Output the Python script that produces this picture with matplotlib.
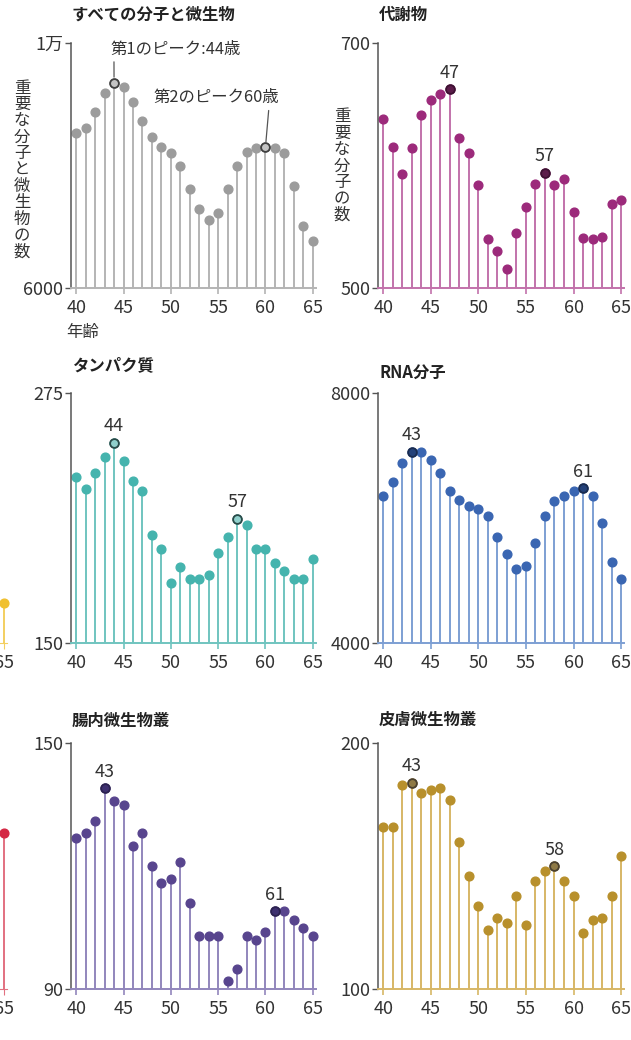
"""Small-multiple stem charts: molecules and microbes vs. age (two peaks)."""

import matplotlib.pyplot as plt

plt.rcParams["font.family"] = ["Noto Sans CJK JP", "DejaVu Sans"]

ages = list(range(40, 66))

all_counts = [8524, 8605, 8876, 9186, 9349, 9272, 9028, 8730, 8458, 8306, 8198, 7997, 7612,
              7292, 7113, 7232, 7612, 7992, 8225, 8279, 8296, 8290, 8198, 7666, 7015, 6776]
metabolites = [638, 615, 593, 614, 641, 653, 658, 662, 622, 610, 584, 540, 530,
               516, 545, 566, 585, 594, 584, 589, 562, 541, 540, 542, 569, 572]
proteins = [233, 227, 235, 243, 250, 241, 231, 226, 204, 197, 180, 188, 182,
            182, 184, 195, 203, 212, 209, 197, 197, 190, 186, 182, 182, 192]
rna = [6356, 6569, 6883, 7059, 7048, 6925, 6723, 6436, 6287, 6191, 6144, 6032, 5691,
       5426, 5186, 5239, 5596, 6032, 6271, 6356, 6431, 6473, 6351, 5926, 5293, 5032]
gut = [127, 128, 131, 139, 136, 135, 125, 128, 120, 116, 117, 121, 111,
       103, 103, 103, 92, 95, 103, 102, 104, 109, 109, 107, 105, 103]
skin = [166, 166, 183, 184, 180, 181, 182, 177, 160, 146, 134, 124, 129,
        127, 138, 126, 144, 148, 150, 144, 138, 123, 128, 129, 138, 154]

titles = ["すべての分子と微生物", "代謝物", "タンパク質", "RNA分子", "腸内微生物叢", "皮膚微生物叢"]
series = [all_counts, metabolites, proteins, rna, gut, skin]
y_ranges = [(6000, 10000), (500, 700), (150, 275), (4000, 8000), (90, 150), (100, 200)]
y_tick_labels = [["6000", "1万"], ["500", "700"], ["150", "275"], ["4000", "8000"],
                 ["90", "150"], ["100", "200"]]
first_peaks = [44, 47, 44, 43, 43, 43]
second_peaks = [60, 57, 57, 61, 61, 58]
y_labels = ["重要な分子と微生物の数", "重要な分子の数", None, None, None, None]

# last visible point of the neighbouring panels cut off at the left edge (fraction of axis)
edge_values = [0.16, 0.635]

# colours: marker, stem, peak face, peak edge
palette = [
    ("#9c9c9c", "#b4b4b4", "#c4c4c4", "#3f3f3f"),
    ("#9c2a7b", "#c272ab", "#5c1c4a", "#3d1232"),
    ("#45b4ae", "#70c4bf", "#8fd0cc", "#2a4a48"),
    ("#3a66b2", "#7d9fd3", "#24427a", "#1a2c50"),
    ("#58458e", "#9286bc", "#3e3070", "#2c2250"),
    ("#b8902c", "#d7b766", "#8f7a45", "#4a4030"),
]
edge_colors = [("#f0c030", "#f3cf60"), ("#d42844", "#e27080")]

W, H = 631, 1040
col_left = [71.0, 378.1]
col_width = [244.6, 245.8]
row_top = [42.7, 392.7, 743.3]
row_bottom = [288.3, 643.3, 989.3]
title_y = [[15, 15], [365, 373], [721, 720]]
XLIM = (39.45, 65.3)
TICK_FS = 13
TEXT_FS = 11.8

fig = plt.figure(figsize=(W / 100, H / 100), dpi=100)


def add_axes_px(left, top, width, height):
    return fig.add_axes([left / W, 1 - (top + height) / H, width / W, height / H])


def style_axes(ax, stem_color, lo, hi, labels):
    ax.set_xlim(*XLIM)
    ax.set_ylim(lo, hi)
    for side in ["top", "right"]:
        ax.spines[side].set_visible(False)
    ax.spines["left"].set_color("#555555")
    ax.spines["left"].set_linewidth(1.1)
    ax.spines["bottom"].set_color(stem_color)
    ax.spines["bottom"].set_linewidth(1.4)
    ax.set_yticks([lo, hi])
    ax.set_yticklabels(labels)
    ax.set_xticks(range(40, 66, 5))
    ax.tick_params(axis="y", length=4, width=1.0, color="#555555", pad=1.5,
                   labelsize=TICK_FS, labelcolor="#333333")
    ax.tick_params(axis="x", length=4, width=1.2, color=stem_color, pad=3.5,
                   labelsize=TICK_FS, labelcolor="#333333")
    ax.patch.set_alpha(0)


for i, (values, title) in enumerate(zip(series, titles)):
    r, c = divmod(i, 2)
    marker_c, stem_c, peak_face, peak_edge = palette[i]
    lo, hi = y_ranges[i]
    ax = add_axes_px(col_left[c], row_top[r], col_width[c], row_bottom[r] - row_top[r])
    style_axes(ax, stem_c, lo, hi, y_tick_labels[i])

    markerline, stemlines, baseline = ax.stem(ages, values, bottom=lo)
    stemlines.set_color(stem_c)
    stemlines.set_linewidth(1.4)
    markerline.set_markerfacecolor(marker_c)
    markerline.set_markeredgecolor(marker_c)
    markerline.set_markersize(6.3)
    baseline.set_visible(False)
    markerline.set_clip_on(False)

    for peak in (first_peaks[i], second_peaks[i]):
        ax.plot(peak, values[ages.index(peak)], "o", ms=6.3, mfc=peak_face,
                mec=peak_edge, mew=1.3, zorder=4, clip_on=False)
        if i > 0:
            ax.annotate(str(peak), xy=(peak, values[ages.index(peak)]),
                        xytext=(0, 5.5), textcoords="offset points", ha="center",
                        va="bottom", fontsize=TICK_FS, color="#333333")

    fig.text((col_left[c] + 1) / W, 1 - title_y[r][c] / H, title, ha="left",
             va="center", fontsize=TEXT_FS, fontweight="bold", color="#222222")

    if y_labels[i]:
        label_x = 22 if c == 0 else 342
        label_y = 170 if c == 0 else 166
        fig.text(label_x / W, 1 - label_y / H, "\n".join(y_labels[i]), ha="center",
                 va="center", fontsize=TEXT_FS, linespacing=0.95, color="#333333")

    if i == 0:
        p1 = first_peaks[0]
        ax.annotate("第1のピーク:44歳", xy=(p1, values[ages.index(p1)]),
                    xytext=(-4, 25), textcoords="offset pixels", ha="left",
                    va="bottom", fontsize=TEXT_FS, color="#333333",
                    arrowprops=dict(arrowstyle="-", color="#555555", lw=0.9,
                                    shrinkA=1, shrinkB=4, relpos=(0.03, 0)))
        p2 = second_peaks[0]
        ax.annotate("第2のピーク60歳", xy=(p2, values[ages.index(p2)]),
                    xytext=(-112, 41), textcoords="offset pixels", ha="left",
                    va="bottom", fontsize=TEXT_FS, color="#333333",
                    arrowprops=dict(arrowstyle="-", color="#555555", lw=0.9,
                                    shrinkA=1, shrinkB=4, relpos=(0.92, 0)))
        fig.text(83 / W, 1 - 333 / H, "年齢", ha="center", va="center",
                 fontsize=TEXT_FS, color="#333333")

# fragments of the panels to the left, cut off by the crop
for frac, (mc, sc), r in zip(edge_values, edge_colors, [1, 2]):
    ax = add_axes_px(7 - 245.0, row_top[r], 245.0, row_bottom[r] - row_top[r])
    ax.set_xlim(*XLIM)
    ax.set_ylim(0, 1)
    for side in ["top", "right", "left"]:
        ax.spines[side].set_visible(False)
    ax.spines["bottom"].set_color(sc)
    ax.set_yticks([])
    ax.set_xticks([65])
    ax.tick_params(axis="x", length=4, color=sc, labelsize=TICK_FS,
                   labelcolor="#333333", pad=3.5)
    m, s, b = ax.stem([65], [frac], bottom=0)
    s.set_color(sc)
    s.set_linewidth(1.4)
    m.set_color(mc)
    m.set_markersize(6.3)
    m.set_clip_on(False)
    b.set_visible(False)

fig.savefig("out.png", dpi=100)
